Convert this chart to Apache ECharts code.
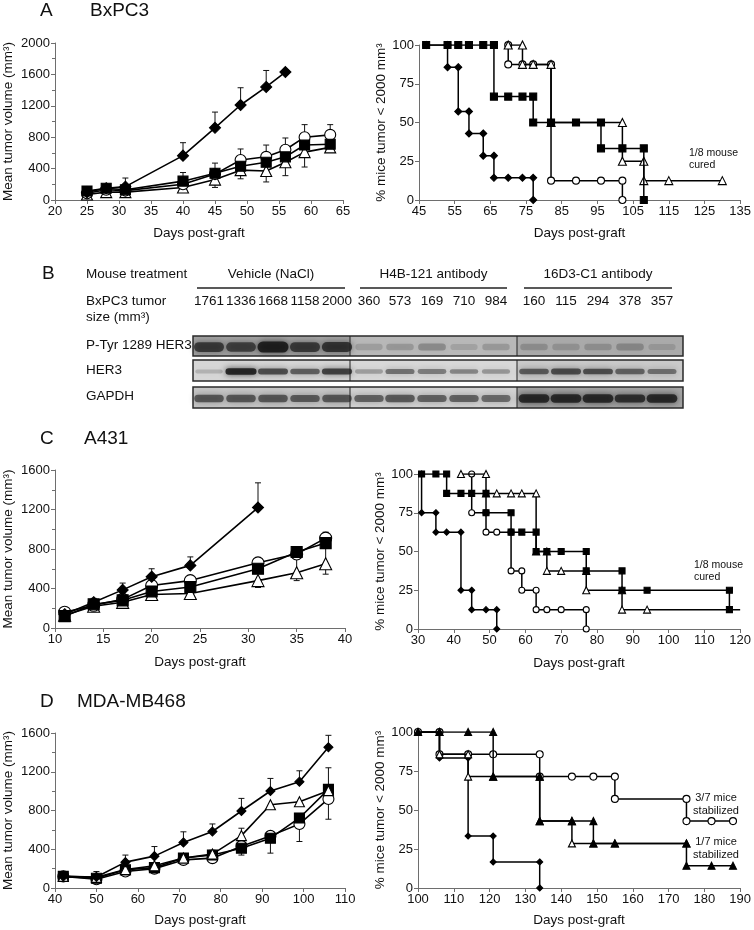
<!DOCTYPE html>
<html>
<head>
<meta charset="utf-8">
<script src="https://cdn.jsdelivr.net/npm/echarts@6/dist/echarts.min.js"></script>
<style>html,body{margin:0;padding:0;background:#fff;}#chart{width:754px;height:930px;}</style>
</head>
<body>
<div id="chart"></div>
<script>
// ================= DATA =================
// Panel A (BxPC3) – mean tumor volume (mm3)
const aDays = [25, 28, 31, 40, 45, 49, 53, 56, 59, 63];
const aDiamond = [100, 150, 170, 565, 920, 1210, 1440, 1630];
const aCircle = [85, 130, 120, 200, 330, 510, 550, 640, 800, 830];
const aSquare = [115, 150, 130, 240, 340, 430, 480, 550, 700, 710];
const aTriangle = [70, 100, 100, 160, 260, 380, 370, 480, 610, 670];
// error bars: [day, from, to]
const aErrors = [[31,170,280],[40,565,730],[45,920,1120],[49,1210,1430],[53,1440,1650],
  [31,130,200],[40,240,350],[45,340,470],[49,510,650],[53,550,700],[56,640,790],[59,800,960],[63,830,960],
  [45,260,160],[49,380,270],[53,370,230],[56,480,310],[59,610,420]];
// Panel A – % mice with tumor < 2000 mm3
const aKmDiamond = [[47,100],[53,100],[53,85.7],[56,85.7],[56,57.1],[59,57.1],[59,42.9],[63,42.9],[63,28.6],[66,28.6],[66,14.3],[70,14.3],[74,14.3],[77,14.3],[77,0]];
const aKmSquare = [[47,100],[53,100],[56,100],[59,100],[63,100],[66,100],[66,66.7],[70,66.7],[74,66.7],[77,66.7],[77,50],[82,50],[89,50],[96,50],[96,33.3],[102,33.3],[108,33.3],[108,0]];
const aKmCircle = [[70,100],[70,87.5],[74,87.5],[77,87.5],[82,87.5],[82,12.5],[89,12.5],[96,12.5],[102,12.5],[102,0]];
const aKmTriangle = [[70,100],[74,100],[74,87.5],[77,87.5],[82,87.5],[82,50],[102,50],[102,25],[108,25],[108,12.5],[115,12.5],[130,12.5]];

// Panel B – western blot
const bGroups = ['Vehicle (NaCl)', 'H4B-121 antibody', '16D3-C1 antibody'];
const bTumorSize = [1761,1336,1668,1158,2000, 360,573,169,710,984, 160,115,294,378,357];
const bRows = ['P-Tyr 1289 HER3', 'HER3', 'GAPDH'];
const bPTyr = [0.75,0.7,1.0,0.75,0.8, 0.06,0.12,0.2,0.04,0.1, 0.12,0.08,0.1,0.16,0.04];
const bHer3 = [0.1,1.0,0.72,0.6,0.8, 0.22,0.5,0.42,0.38,0.28, 0.62,0.72,0.7,0.58,0.48];
const bGapdh = [0.62,0.62,0.62,0.6,0.62, 0.58,0.62,0.58,0.58,0.52, 0.92,0.92,0.92,0.85,0.92];

// Panel C (A431)
const cDays = [11, 14, 17, 20, 24, 31, 35, 38];
const cDiamond = [140, 261, 386, 519, 634, 1220];
const cCircle = [160, 230, 290, 430, 480, 660, 750, 910];
const cSquare = [120, 240, 280, 370, 415, 600, 770, 860];
const cTriangle = [130, 220, 260, 340, 350, 480, 560, 650];
const cErrors = [[14,261,300],[17,386,455],[20,519,600],[24,634,720],[31,1220,1470],
  [31,660,710],[38,910,970],[20,340,300],[31,480,410],[35,560,480],[38,650,545],[35,770,560],[38,860,650]];
const cKmDiamond = [[31,100],[31,75],[35,75],[35,62.5],[38,62.5],[42,62.5],[42,25],[45,25],[45,12.5],[49,12.5],[52,12.5],[52,0]];
const cKmSquare = [[31,100],[35,100],[38,100],[38,87.5],[42,87.5],[45,87.5],[49,87.5],[49,75],[56,75],[56,62.5],[59,62.5],[63,62.5],[63,50],[66,50],[70,50],[77,50],[77,37.5],[87,37.5],[87,25],[94,25],[117,25],[117,12.5]];
const cKmCircle = [[45,100],[45,75],[49,75],[49,62.5],[52,62.5],[56,62.5],[56,37.5],[59,37.5],[59,25],[63,25],[63,12.5],[66,12.5],[70,12.5],[77,12.5],[77,0]];
const cKmTriangle = [[42,100],[49,100],[49,87.5],[52,87.5],[56,87.5],[59,87.5],[63,87.5],[63,50],[66,50],[66,37.5],[70,37.5],[77,37.5],[77,25],[87,25],[87,12.5],[94,12.5]];
const cKmTriangleEnd = [[94,12.5],[120,12.5]];

// Panel D (MDA-MB468)
const dDays = [42, 50, 57, 64, 71, 78, 85, 92, 99, 106];
const dDiamond = [120, 113, 267, 329, 470, 583, 795, 1001, 1097, 1452];
const dTriangle = [120, 110, 190, 230, 310, 350, 541, 860, 891, 1005];
const dSquare = [120, 100, 188, 210, 310, 340, 411, 514, 723, 1018];
const dCircle = [120, 90, 170, 200, 290, 308, 432, 538, 661, 919];
const dErrors = [[50,113,170],[57,267,340],[64,329,428],[71,470,580],[78,583,661],[85,795,925],[92,1001,1131],[99,1097,1210],[106,1452,1576],
  [85,541,617],[106,1018,1241],[71,310,350],[78,340,390],[85,432,340],[92,514,360],[99,661,480],[106,919,710]];
const dKmDiamond = [[100,100],[106,100],[106,83.3],[114,83.3],[114,33.3],[121,33.3],[121,16.7],[134,16.7],[134,0]];
const dKmCircle = [[100,100],[106,100],[106,85.7],[114,85.7],[121,85.7],[134,85.7],[134,71.4],[143,71.4],[149,71.4],[155,71.4],[155,57.1],[175,57.1],[175,42.9],[182,42.9],[188,42.9]];
const dKmTriangle = [[100,100],[106,100],[106,85.7],[114,85.7],[114,71.4],[121,71.4],[134,71.4],[134,42.9],[143,42.9],[143,28.6],[149,28.6],[155,28.6],[175,28.6]];
const dKmBlack = [[100,100],[106,100],[114,100],[121,100],[121,71.4],[134,71.4],[134,42.9],[143,42.9],[149,42.9],[149,28.6],[155,28.6],[175,28.6],[175,14.3],[182,14.3],[188,14.3]];

// ================= CHART =================
const FONT = '"Liberation Sans", Arial, Helvetica, sans-serif';
const AX = '#6e6e6e';
const TXT = '#111';
const chart = echarts.init(document.getElementById('chart'));

const grids = [
  {left:55, top:43, width:288, height:157},
  {left:419, top:45, width:325, height:155},
  {left:55, top:470, width:290, height:158},
  {left:418, top:474, width:325, height:155},
  {left:55, top:733, width:290, height:155},
  {left:418, top:732, width:324, height:156}
];
const plain = v => String(v);

function xAxis(i, min, max, step, gap) {
  return {gridIndex:i, type:'value', min, max, interval:step,
    name:'Days post-graft', nameLocation:'middle', nameGap:gap,
    nameTextStyle:{fontSize:13.5, color:TXT, fontFamily:FONT},
    axisLine:{show:true, onZero:false, lineStyle:{color:AX, width:1}},
    axisTick:{show:true, length:4, lineStyle:{color:AX}},
    axisLabel:{fontSize:13, color:TXT, margin:5, fontFamily:FONT, formatter:plain},
    splitLine:{show:false}};
}
function yAxis(i, max, step, name, gap, minor) {
  return {gridIndex:i, type:'value', min:0, max, interval:step,
    name, nameLocation:'middle', nameGap:gap, nameRotate:90,
    nameTextStyle:{fontSize:13.5, color:TXT, fontFamily:FONT},
    axisLine:{show:true, onZero:false, lineStyle:{color:AX, width:1}},
    axisTick:{show:true, length:4, lineStyle:{color:AX}},
    minorTick:{show:minor, splitNumber:2, length:3, lineStyle:{color:AX}},
    minorSplitLine:{show:false},
    axisLabel:{fontSize:13, color:TXT, margin:5, fontFamily:FONT, formatter:plain},
    splitLine:{show:false}};
}
const VOL = 'Mean tumor volume (mm\u00b3)';
const PCT = '% mice tumor < 2000 mm\u00b3';
const xAxes = [xAxis(0,20,65,5,26), xAxis(1,45,135,10,26), xAxis(2,10,40,5,27), xAxis(3,30,120,10,27), xAxis(4,40,110,10,25), xAxis(5,100,190,10,25)];
const yAxes = [yAxis(0,2000,400,VOL,40,true), yAxis(1,100,25,PCT,31,false), yAxis(2,1600,400,VOL,40,true), yAxis(3,100,25,PCT,31,false), yAxis(4,1600,400,VOL,40,true), yAxis(5,100,25,PCT,31,false)];

const series = [];
function pts(days, vals) { return vals.map((v, i) => [days[i], v]); }
function addLine(g, data, symbol, size, fill, z, width, showSym) {
  series.push({type:'line', xAxisIndex:g, yAxisIndex:g, data, symbol, symbolSize:size,
    showSymbol: showSym !== false, showAllSymbol:true, silent:true, animation:false, z,
    lineStyle:{color:'#000', width:width || 1.6},
    itemStyle:{color:fill, borderColor:'#000', borderWidth:1.1},
    emphasis:{disabled:true}});
}
function errRender(params, api) {
  const x = api.value(0);
  const p0 = api.coord([x, api.value(1)]);
  const p1 = api.coord([x, api.value(2)]);
  const w = 3;
  return {type:'group', children:[
    {type:'line', shape:{x1:p0[0], y1:p0[1], x2:p1[0], y2:p1[1]}, style:{stroke:'#111', lineWidth:1}},
    {type:'line', shape:{x1:p1[0]-w, y1:p1[1], x2:p1[0]+w, y2:p1[1]}, style:{stroke:'#111', lineWidth:1}}
  ]};
}
function addErr(g, data) {
  series.push({type:'custom', xAxisIndex:g, yAxisIndex:g, data, renderItem:errRender,
    encode:{x:0, y:[1,2]}, z:1, silent:true, animation:false});
}
const DIA = 'diamond', CIR = 'circle', SQ = 'rect', TRI = 'triangle';

// A left
addErr(0, aErrors);
addLine(0, pts(aDays, aTriangle), TRI, 11, '#fff', 3);
addLine(0, pts(aDays, aCircle), CIR, 11, '#fff', 4);
addLine(0, pts(aDays, aSquare), SQ, 10, '#000', 5);
addLine(0, pts(aDays, aDiamond), DIA, 11, '#000', 6);
// A right
addLine(1, aKmDiamond, DIA, 7, '#000', 3, 1.5);
addLine(1, aKmCircle, CIR, 7, '#fff', 4, 1.5);
addLine(1, aKmTriangle, TRI, 8, '#fff', 5, 1.5);
addLine(1, aKmSquare, SQ, 7, '#000', 6, 1.5);
// C left
addErr(2, cErrors);
addLine(2, pts(cDays, cTriangle), TRI, 12, '#fff', 3);
addLine(2, pts(cDays, cCircle), CIR, 12, '#fff', 4);
addLine(2, pts(cDays, cSquare), SQ, 11, '#000', 5);
addLine(2, pts(cDays, cDiamond), DIA, 11, '#000', 6);
// C right
addLine(3, cKmDiamond, DIA, 6, '#000', 3, 1.5);
addLine(3, cKmCircle, CIR, 6, '#fff', 4, 1.5);
addLine(3, cKmTriangleEnd, 'none', 0, '#fff', 4, 1.5, false);
addLine(3, cKmTriangle, TRI, 7, '#fff', 5, 1.5);
addLine(3, cKmSquare, SQ, 6, '#000', 6, 1.5);
// D left
addErr(4, dErrors);
addLine(4, pts(dDays, dCircle), CIR, 11, '#fff', 3);
addLine(4, pts(dDays, dSquare), SQ, 10, '#000', 4);
addLine(4, pts(dDays, dTriangle), TRI, 10, '#fff', 5);
addLine(4, pts(dDays, dDiamond), DIA, 9, '#000', 6);
// D right
addLine(5, dKmDiamond, DIA, 6, '#000', 3, 1.5);
addLine(5, dKmCircle, CIR, 7, '#fff', 4, 1.5);
addLine(5, dKmTriangle, TRI, 7, '#fff', 5, 1.5);
addLine(5, dKmBlack, TRI, 7, '#000', 6, 1.5);

// ================= GRAPHIC (titles, blot, notes) =================
const gfx = [];
function txt(x, y, s, size, align) {
  gfx.push({type:'text', x, y, silent:true, z:10,
    style:{text:s, font: size + 'px ' + FONT, fill:TXT, textAlign:align || 'left', textVerticalAlign:'middle', align:align || 'left', verticalAlign:'middle'}});
}
// panel titles
txt(40, 11, 'A', 19); txt(90, 11, 'BxPC3', 19);
txt(42, 274, 'B', 19);
txt(40, 439, 'C', 19); txt(84, 439, 'A431', 19);
txt(40, 702, 'D', 19); txt(77, 702, 'MDA-MB468', 19);
// notes
txt(689, 153, '1/8 mouse', 10.5); txt(689, 165, 'cured', 10.5);
txt(694, 565, '1/8 mouse', 10.5); txt(694, 577, 'cured', 10.5);
txt(716, 798, '3/7 mice', 11, 'center'); txt(716, 811, 'stabilized', 11, 'center');
txt(716, 842, '1/7 mice', 11, 'center'); txt(716, 855, 'stabilized', 11, 'center');

// panel B layout
const laneX = [209,241,273,305,337, 369,400,432,464,496, 534,566,598,630,662];
const panelEdges = [193, 350, 517, 683];
const groupLines = [[197,345],[360,507],[524,672]];
const rowBoxes = [[336,356],[360,381],[387,408]];
const rowLabelY = [345, 370, 396];
const rowBg = [['#a2a2a2','#b8b8b8','#aaaaaa'], ['#d6d6d6','#d8d8d8','#cacaca'], ['#c6c6c6','#d2d2d2','#a4a4a4']];
const rowBandH = [10, 6, 8];
const rowBands = [bPTyr, bHer3, bGapdh];

txt(86, 274, 'Mouse treatment', 13.5);
bGroups.forEach((g, i) => {
  const [a, b] = groupLines[i];
  txt((a + b) / 2, 274, g, 13.5, 'center');
  gfx.push({type:'line', silent:true, shape:{x1:a, y1:288, x2:b, y2:288}, style:{stroke:'#222', lineWidth:1.3}});
});
txt(86, 301, 'BxPC3 tumor', 13.5);
txt(86, 317, 'size (mm\u00b3)', 13.5);
bTumorSize.forEach((v, i) => txt(laneX[i], 301, String(v), 13.5, 'center'));
bRows.forEach((r, i) => txt(86, rowLabelY[i], r, 13.5));

rowBoxes.forEach(([y0, y1], r) => {
  for (let p = 0; p < 3; p++) {
    gfx.push({type:'rect', silent:true, z:1, shape:{x:panelEdges[p], y:y0, width:panelEdges[p+1]-panelEdges[p], height:y1-y0}, style:{fill:rowBg[r][p]}});
  }
  const cy = (y0 + y1) / 2 + 1;
  rowBands[r].forEach((v, i) => {
    const h = rowBandH[r] * (0.6 + 0.5 * v);
    const w = 27 + 4 * v;
    const a = (0.1 + 0.75 * v).toFixed(2);
    gfx.push({type:'rect', silent:true, z:2, shape:{x:laneX[i]-w/2, y:cy-h/2, width:w, height:h, r:h/2},
      style:{fill:'rgba(20,20,20,' + a + ')', shadowBlur:6, shadowColor:'rgba(20,20,20,' + a + ')'}});
  });
  gfx.push({type:'rect', silent:true, z:3, shape:{x:panelEdges[0], y:y0, width:panelEdges[3]-panelEdges[0], height:y1-y0}, style:{fill:'none', stroke:'#2a2a2a', lineWidth:1.5}});
  [1, 2].forEach(p => gfx.push({type:'line', silent:true, z:3, shape:{x1:panelEdges[p], y1:y0, x2:panelEdges[p], y2:y1}, style:{stroke:'#222', lineWidth:1}}));
});

chart.setOption({
  animation:false,
  backgroundColor:'#fff',
  textStyle:{fontFamily:FONT},
  grid:grids,
  xAxis:xAxes,
  yAxis:yAxes,
  series,
  graphic:{elements:gfx}
});
</script>
</body>
</html>
